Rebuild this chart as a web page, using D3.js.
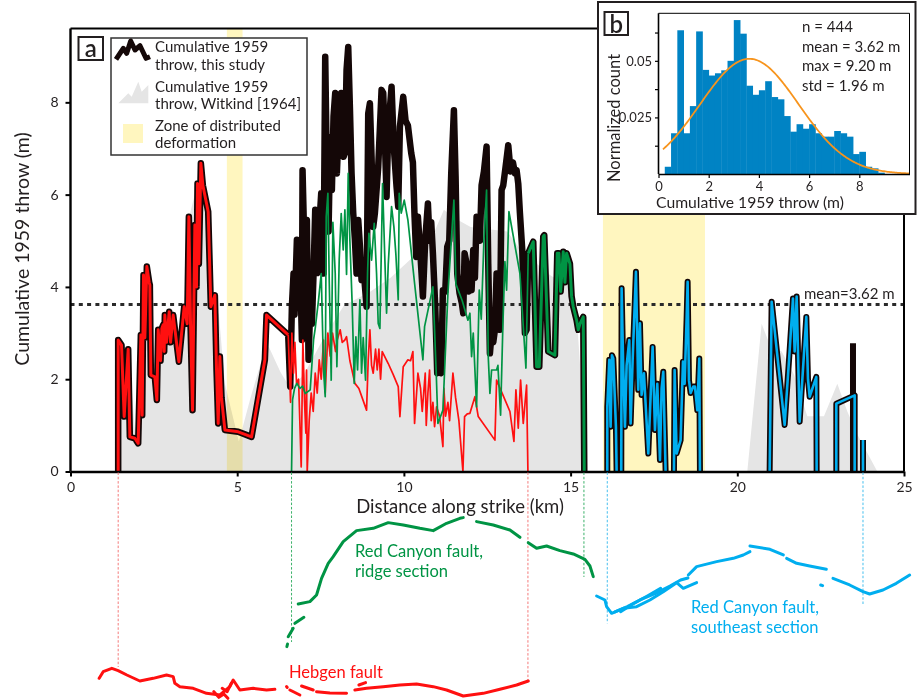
<!DOCTYPE html>
<html>
<head>
<meta charset="utf-8">
<script src="https://cdn.jsdelivr.net/npm/d3@7"></script>
<style>
  body { margin: 0; background: #fff; }
  svg { display: block; font-family: Lato, "Open Sans", sans-serif; }
</style>
</head>
<body>
<svg id="chart" width="917" height="700"></svg>
<script>
// ---------------------------------------------------------------
// Cumulative 1959 throw along strike, Hebgen / Red Canyon faults
// ---------------------------------------------------------------

// Axis ticks
const xTicks = [0, 5, 10, 15, 20, 25];
const yTicks = [0, 2, 4, 6, 8];
const insetXTicks = [0, 2, 4, 6, 8];
const insetYTicks = [0.0125, 0.025, 0.0375, 0.05, 0.0625];
const insetYLabels = [0.025, 0.05];

// Zones of distributed deformation [start km, end km]
const deformationZones = [[4.69, 5.16], [15.97, 19.03]];

// Hebgen fault throw [km along strike, throw m]
const hebgenThrow = [
  [1.43,0],[1.43,2.85],[1.53,2.74],[1.61,1.19],[1.73,2.65],[1.78,0.75],[1.93,0.72],[2.03,0.61],
  [2.11,2.96],[2.15,1.22],[2.19,4.26],[2.23,2.9],[2.29,4.44],[2.36,4.1],[2.38,4.04],[2.41,2.09],
  [2.53,2.05],[2.59,1.55],[2.63,3.07],[2.7,2.4],[2.74,3.1],[2.78,3.18],[2.81,2.6],[2.83,3.39],
  [2.88,2.8],[2.96,3.46],[3.0,2.8],[3.08,3.39],[3.25,2.38],[3.41,3.57],[3.5,3.2],[3.55,5.52],
  [3.6,3.2],[3.66,1.33],[3.73,5.34],[3.78,4.0],[3.81,6.24],[3.85,4.5],[3.91,6.68],[3.97,6.2],
  [4.13,5.63],[4.21,3.57],[4.33,3.82],[4.38,2.2],[4.43,1.04],[4.48,2.49],[4.53,1.6],[4.63,0.9],
  [5.03,0.86],[5.43,0.75],[5.83,2.42],[5.88,3.39],[6.53,2.96],
  [6.6,1.5],[6.64,3.0],[6.69,2.13],[6.73,2.8],[6.78,1.9],[6.84,2.0],[6.92,0.1],[6.97,2.85],
  [7.02,1.5],[7.06,0.83],[7.08,2.2],[7.1,0],[7.16,1.11],[7.22,1.7],[7.28,1.3],[7.34,2.13],
  [7.4,1.7],[7.46,2.42],[7.52,2.0],[7.59,2.85],[7.64,1.7],[7.72,3.0],[7.79,2.5],[7.86,3.0],
  [7.95,2.6],[8.0,2.85],[8.09,3.07],[8.15,2.8],[8.23,2.85],[8.28,2.92],[8.38,2.4],[8.53,1.91],
  [8.65,1.8],[8.88,1.33],[8.93,2.42],[8.98,3.07],[9.03,2.3],[9.08,2.13],[9.15,2.65],[9.2,2.2],
  [9.25,2.65],[9.3,2.0],[9.35,2.6],[9.53,2.34],[9.68,2.1],[9.83,1.84],[9.88,1.19],[9.98,2.27],
  [10.12,2.42],[10.2,2.4],[10.27,2.6],[10.32,1.04],[10.42,2.13],[10.5,1.8],[10.55,1.3],[10.64,2.13],
  [10.67,1.0],[10.72,1.7],[10.77,2.2],[10.82,1.1],[10.87,1.5],[10.92,0.97],[10.98,1.4],[11.07,1.2],
  [11.17,0.54],[11.2,1.8],[11.25,1.2],[11.32,1.5],[11.37,1.1],[11.47,2.13],[11.55,1.6],[11.65,1.1],
  [11.77,0],[11.82,1.19],[11.9,1.25],[11.98,1.26],[12.13,1.62],[12.23,1.19],[12.73,0.68],[12.78,1.98],
  [13.18,1.3],[13.3,0.65],[13.36,1.77],[13.43,0.94],[13.5,1.98],[13.58,1.04],[13.68,1.87],[13.72,0]
];

// Red Canyon fault, ridge section throw [km, m]
const ridgeThrow = [
  [6.63,0],[6.66,1.55],[6.72,1.8],[6.79,1.91],[6.88,1.8],[6.96,1.85],[7.04,1.69],[7.19,1.77],
  [7.29,2.85],[7.34,3.1],[7.44,3.72],[7.52,4.29],[7.59,2.2],[7.64,1.62],[7.67,5.52],[7.72,6.03],
  [7.76,4.15],[7.82,1.98],[7.87,5.4],[7.94,4.29],[7.99,2.27],[8.06,4.6],[8.12,5.59],[8.18,4.8],
  [8.23,5.67],[8.28,4.27],[8.33,6.46],[8.38,5.0],[8.45,3.6],[8.51,1.91],[8.56,2.92],[8.61,2.2],
  [8.68,3.72],[8.73,2.13],[8.78,2.9],[8.85,1.98],[8.91,4.29],[8.95,5.16],[9.03,4.58],[9.11,5.38],
  [9.18,4.29],[9.23,3.21],[9.28,3.1],[9.36,6.24],[9.42,4.8],[9.48,3.43],[9.53,4.48],[9.63,5.74],
  [9.7,5.3],[9.76,4.7],[9.83,3.72],[9.86,6.03],[9.92,5.6],[10.01,5.88],[10.12,5.45],[10.32,4.08],
  [10.57,2.42],[10.62,3.14],[10.87,4.0],[10.97,2.13],[11.02,1.04],[11.17,1.33],[11.32,3.86],[11.5,5.88],
  [11.56,4.06],[11.75,3.7],[11.92,3.28],[11.98,3.43],[12.03,2.49],[12.08,3.0],[12.18,1.4],[12.26,3.93],
  [12.32,3.3],[12.4,5.0],[12.48,6.1],[12.53,2.49],[12.58,1.69],[12.63,2.2],[12.78,2.2],[12.82,2.3],
  [12.9,1.22],[12.97,3.2],[13.03,4.55],[13.08,3.93],[13.15,5.63],[13.48,4.29],[13.66,2.24],[13.73,4.73],
  [13.88,4.98],[13.98,2.27],[14.06,2.27],[14.18,5.09],[14.21,5.12],[14.33,2.6],[14.53,2.52],[14.6,4.73],
  [14.65,4.73],[14.7,3.9],[14.78,4.76],[14.83,4.1],[14.88,4.73],[14.98,4.5],[15.03,3.8],[15.08,3.57],
  [15.18,3.28],[15.23,3.07],[15.28,3.2],[15.38,3.35],[15.41,0]
];

// Summed throw where the Hebgen and ridge-section ruptures overlap [km, m]
const overlapThrow = [
  [6.53,2.96],[6.59,1.84],[6.64,3.57],[6.69,4.29],[6.72,3.4],[6.79,5.02],[6.84,4.1],[6.88,4.7],
  [6.94,2.85],[6.96,6.53],[7.02,4.7],[7.09,5.45],[7.14,2.42],[7.19,3.57],[7.24,3.2],[7.29,4.29],
  [7.34,5.67],[7.4,4.3],[7.46,5.3],[7.52,6.03],[7.59,4.29],[7.64,8.99],[7.69,6.46],[7.74,5.2],
  [7.79,7.25],[7.84,6.1],[7.89,7.7],[7.94,8.2],[7.99,6.46],[8.06,7.76],[8.12,8.2],[8.19,6.82],
  [8.23,6.9],[8.28,8.7],[8.33,9.2],[8.38,7.9],[8.43,6.46],[8.48,5.6],[8.53,5.02],[8.58,4.29],
  [8.63,5.45],[8.68,4.9],[8.73,4.15],[8.8,4.3],[8.88,3.57],[8.93,7.76],[8.98,7.98],[9.03,6.82],
  [9.08,5.3],[9.13,5.6],[9.23,6.6],[9.33,8.27],[9.38,8.2],[9.43,7.18],[9.48,5.95],[9.53,7.4],
  [9.63,8.34],[9.7,7.0],[9.78,6.17],[9.83,5.74],[9.88,7.47],[9.98,8.12],[10.05,7.6],[10.12,7.5],
  [10.22,6.9],[10.27,6.7],[10.32,5.52],[10.37,4.65],[10.42,5.52],[10.5,4.65],[10.57,3.79],[10.64,5.02],
  [10.72,5.81],[10.77,5.0],[10.82,5.4],[10.87,4.73],[10.94,3.57],[11.0,2.13],[11.07,2.34],[11.12,2.13],
  [11.17,3.93],[11.24,3.9],[11.3,4.87],[11.36,5.0],[11.42,6.46],[11.5,7.83],[11.55,6.4],[11.6,4.29],
  [11.67,3.86],[11.74,3.64],[11.78,3.43],[11.82,4.73],[11.88,4.51],[11.94,3.9],[12.0,4.4],[12.03,3.93],
  [12.08,4.8],[12.13,4.2],[12.18,5.52],[12.23,5.45],[12.28,5.0],[12.33,6.2],[12.4,6.5],[12.48,7.04],
  [12.53,4.5],[12.58,2.56],[12.63,3.0],[12.68,2.8],[12.73,3.07],[12.78,4.29],[12.83,3.8],[12.88,3.07],
  [12.93,6.1],[12.98,6.2],[13.05,6.6],[13.13,7.07],[13.2,6.5],[13.27,6.7],[13.33,6.46],[13.38,6.53],
  [13.43,6.24],[13.48,5.6],[13.55,4.8],[13.63,3.0],[13.68,3.07],[13.73,4.73]
];

// Red Canyon fault, southeast section throw [km, m]; null breaks the line
const southeastThrow = [
  [16.1,0],[16.1,1.4],[16.16,2.42],[16.2,0.97],[16.24,2.52],[16.28,2.45],[16.36,0.97],[16.38,0],null,
  [16.52,0],[16.53,3.97],[16.58,2.2],[16.63,0.97],[16.68,2.3],[16.76,2.85],[16.8,1.04],[16.86,2.4],
  [16.96,4.33],[17.03,1.77],[17.08,3.21],[17.13,1.66],[17.2,2.13],[17.33,0.39],[17.46,2.7],[17.53,0.9],
  [17.6,1.9],[17.68,0.25],[17.73,1.8],[17.78,2.16],[17.85,0],null,
  [18.1,0],[18.12,2.2],[18.18,0.39],[18.3,0.68],[18.37,2.38],[18.42,1.9],[18.48,3.32],[18.51,4.11],
  [18.55,1.98],[18.6,1.7],[18.68,1.84],[18.73,1.84],[18.8,1.33],[18.86,2.45],[18.88,0],null,
  [20.97,0],[21.03,3.68],[21.42,1.01],[21.55,2.4],[21.67,3.75],[21.72,2.6],[21.78,3.79],[21.87,1.08],
  [22.07,3.35],[22.12,2.0],[22.17,1.62],[22.37,2.05],[22.38,0],null,
  [22.97,0],[22.97,1.47],[23.52,1.65],[23.52,0],null,
  [23.77,0],[23.77,0.68]
];

// Short strand adding to the cumulative total near the southeast tip [km, m]
const minorStrand = [[23.47,0],[23.47,2.78]];

// Witkind (1964) cumulative throw [km, m]
const witkindNorth = [
  [1.39,0],[1.43,2.8],[1.6,1.2],[1.75,2.6],[1.95,0.7],[2.05,0.6],[2.2,4.2],[2.3,4.4],[2.45,2.0],
  [2.6,1.5],[2.65,3.0],[2.9,3.4],[3.1,3.4],[3.25,2.4],[3.45,3.5],[3.55,5.5],[3.8,6.2],[3.9,6.6],
  [4.1,5.5],[4.2,3.7],[4.45,3.4],[4.63,1.9],[5.05,0.65],[5.4,1.6],[5.85,2.7],[5.95,2.7],[6.3,2.15],
  [6.6,1.8],[7.0,2.1],[7.6,2.9],[8.2,3.6],[9.0,3.9],[9.6,4.2],[10.2,4.6],[10.8,5.0],[11.2,5.67],
  [11.5,5.5],[12.0,5.3],[13.1,5.2],[13.5,4.8],[14.4,4.25],[15.0,4.0],[15.2,3.2],[15.33,1.8],[15.4,0]
];
const witkindSouth = [
  [20.3,0],[20.73,3.2],[21.0,2.7],[21.33,2.6],[21.7,2.1],[22.1,1.2],[22.6,1.2],[23.0,1.9],
  [23.3,1.3],[23.6,0.8],[24.2,0]
];

// Summary statistics of the cumulative throw
const throwCount = 444;
const throwMean = 3.62;
const throwMax = 9.20;
const throwStd = 1.96;

// Histogram of cumulative throw: bins of 0.25 m starting at 0.25 m
const binStart = 0.25;
const binWidth = 0.25;
const binFractions = [
  0.0032, 0.018, 0.0635, 0.018, 0.030, 0.063, 0.046, 0.0435, 0.0445, 0.0458,
  0.050, 0.068, 0.062, 0.039, 0.035, 0.037, 0.041, 0.034, 0.033, 0.0256,
  0.0187, 0.022, 0.020, 0.022, 0.018, 0.0165, 0.0165, 0.019, 0.018, 0.0165,
  0.0088, 0.0098, 0.0032, 0.0025, 0.0006
];

// Fault traces in map view [km along strike, km northing]; each inner list is one mapped strand
const hebgenTrace = [
  [[0.86,0.35],[0.98,0.55],[1.24,0.65],[1.43,0.58],[1.69,0.45],[2.08,0.27],[2.48,0.35],[2.88,0.45],
   [3.08,0.4],[3.13,0.2],[3.28,0.1],[3.68,0.05],[4.08,-0.1],[4.48,-0.15],[4.78,0.1],[4.88,0.3],
   [5.08,0.0],[5.48,0.05],[5.88,0.0],[6.13,0.02]],
  [[4.3,-0.05],[4.45,-0.22],[4.6,-0.12],[4.72,-0.25]],
  [[4.55,0.05],[4.7,-0.05],[4.82,0.2]],
  [[6.48,0.1],[6.5,0.08]],
  [[6.58,0.0],[6.88,-0.15]],
  [[6.93,0.12],[7.28,0.0]],
  [[7.38,-0.05],[7.78,-0.09],[8.28,-0.1]],
  [[8.53,0.0],[8.88,0.05],[9.38,0.1],[9.88,0.15],[10.38,0.18],[10.88,0.1],[11.28,0.0],[11.78,-0.18],
   [12.38,-0.1],[12.88,0.02],[13.38,0.15],[13.73,0.27]],
  [[8.65,0.15],[8.85,0.22]]
];
const ridgeTrace = [
  [[6.49,1.3],[6.51,1.38]],
  [[6.53,1.6],[6.68,1.85]],
  [[6.73,2.0],[7.0,2.18]],
  [[6.83,2.58],[7.18,2.65],[7.38,2.85],[7.53,3.35],[7.73,3.8],[7.88,4.0],[8.18,4.45],[8.58,4.78],
   [9.08,4.85],[9.53,5.02],[9.98,4.95],[10.48,4.85],[10.88,4.78],[11.28,5.0],[11.68,5.15],[11.78,5.17]],
  [[12.18,5.05],[12.68,4.95],[13.18,4.8],[13.48,4.58]],
  [[13.73,4.42],[13.98,4.25],[14.28,4.32],[14.68,4.18],[15.08,4.08],[15.43,3.92],[15.58,3.72],[15.68,3.4]]
];
const southeastTrace = [
  [[15.78,2.82],[16.03,2.7],[16.08,2.5],[16.23,2.3],[16.58,2.45],[16.98,2.5],[17.38,2.7],[17.78,2.95],
   [18.18,3.22],[18.38,3.05],[18.78,3.22]],
  [[16.33,2.34],[16.7,2.5],[17.08,2.7],[17.55,2.9],[17.98,3.12],[18.3,3.3],[18.52,3.36]],
  [[16.5,2.35],[16.9,2.6],[17.3,2.82],[17.7,3.05]],
  [[18.53,3.45],[18.78,3.7],[19.38,3.85],[19.88,3.95],[20.18,4.05],[20.38,4.15]],
  [[20.38,4.32],[20.98,4.22],[21.38,4.05]],
  [[21.48,3.95],[21.78,3.8],[22.17,3.72],[22.67,3.62]],
  [[22.5,3.15],[22.56,3.13]],
  [[22.87,3.35],[23.37,3.15],[23.77,2.95],[23.97,2.88],[24.37,3.0],[24.77,3.2],[25.17,3.45]]
];

// Dashed links from the throw axis down to the mapped fault ends
const linkKm = [1.43, 6.63, 13.72, 15.4, 16.1, 23.77];
const linkEndNorthing = [0.69, 1.44, 0.3, 3.39, 2.0, 2.53];
const linkFault = ["hebgen", "ridge", "hebgen", "ridge", "southeast", "southeast"];

// ---------------------------------------------------------------
const colors = {
  cumulative: "#140707",
  hebgen: "#ff1010",
  ridge: "#009444",
  southeast: "#00aeef",
  witkind: "#e5e5e5",
  zone: "#fff6bf",
  text: "#231f20",
  hist: "#0083c4",
  fit: "#f7941d"
};
const linkColors = { hebgen: "#f47a7a", ridge: "#3cb26a", southeast: "#45bfee" };

const svg = d3.select("#chart");

const x = d3.scaleLinear().domain([0, 25]).range([70.5, 904]);
const y = d3.scaleLinear().domain([0, 9.6]).range([471.5, 28.5]);
// map view uses the same km scale vertically as the along-strike axis
const kmPx = x(1) - x(0);
const northing = d3.scaleLinear().domain([0, 1]).range([690, 690 - kmPx]);

const line = d3.line().defined(d => d !== null).x(d => x(d[0])).y(d => y(d[1]));
const area = d3.area().x(d => x(d[0])).y0(y(0)).y1(d => y(d[1]));

// Witkind profile
const gWit = svg.append("g");
[witkindNorth, witkindSouth].forEach(s =>
  gWit.append("path").attr("d", area(s)).attr("fill", colors.witkind));

// Deformation zones (multiplied over the grey profile)
svg.append("g").selectAll("rect").data(deformationZones).join("rect")
  .attr("x", d => x(d[0])).attr("width", d => x(d[1]) - x(d[0]))
  .attr("y", y(9.6)).attr("height", y(0) - y(9.6))
  .attr("fill", colors.zone).style("mix-blend-mode", "multiply");

// Mean line
svg.append("line")
  .attr("x1", x(0)).attr("x2", x(25)).attr("y1", y(throwMean)).attr("y2", y(throwMean))
  .attr("stroke", "#2a2a2a").attr("stroke-width", 3).attr("stroke-dasharray", "4,4.3");

// Cumulative throw (thick dark line)
const joinStart = overlapThrow[0][0];
const joinEnd = overlapThrow[overlapThrow.length - 1][0];
const cumulative = hebgenThrow.filter(d => d[0] < joinStart)
  .concat(overlapThrow)
  .concat(ridgeThrow.filter(d => d[0] > joinEnd));

const gLines = svg.append("g").attr("fill", "none")
  .attr("stroke-linejoin", "round").attr("stroke-linecap", "butt");

gLines.append("path").attr("d", line(cumulative))
  .attr("stroke", colors.cumulative).attr("stroke-width", 6.5);
gLines.append("path").attr("d", line(southeastThrow))
  .attr("stroke", colors.cumulative).attr("stroke-width", 6);
gLines.append("path").attr("d", line(minorStrand))
  .attr("stroke", colors.cumulative).attr("stroke-width", 6);

// Individual fault contributions where the ruptures overlap
gLines.append("path").attr("d", line(hebgenThrow.filter(d => d[0] >= joinStart)))
  .attr("stroke", colors.hebgen).attr("stroke-width", 1.7);
gLines.append("path").attr("d", line(ridgeThrow.filter(d => d[0] <= joinEnd)))
  .attr("stroke", colors.ridge).attr("stroke-width", 1.7);

// Single-fault stretches, coloured inside the dark outline
gLines.append("path").attr("d", line(hebgenThrow.filter(d => d[0] <= joinStart)))
  .attr("stroke", colors.hebgen).attr("stroke-width", 3);
gLines.append("path").attr("d", line(ridgeThrow.filter(d => d[0] >= joinEnd)))
  .attr("stroke", colors.ridge).attr("stroke-width", 3);
gLines.append("path").attr("d", line(southeastThrow))
  .attr("stroke", colors.southeast).attr("stroke-width", 2.6);

// Frame and axes
svg.append("path")
  .attr("d", `M${x(0)},${y(9.6)}H${x(25)}V${y(0)}`)
  .attr("fill", "none").attr("stroke", "#000").attr("stroke-width", 2);

const gx = svg.append("g").attr("transform", `translate(0,${y(0)})`)
  .call(d3.axisBottom(x).tickValues(xTicks).tickSize(5).tickSizeOuter(0).tickPadding(6));
const gy = svg.append("g").attr("transform", `translate(${x(0)},0)`)
  .call(d3.axisLeft(y).tickValues(yTicks).tickSize(5).tickSizeOuter(0).tickPadding(7));
[gx, gy].forEach(g => {
  g.select(".domain").attr("stroke", "#000").attr("stroke-width", 2.4);
  g.selectAll(".tick line").attr("stroke", "#000").attr("stroke-width", 2);
  g.selectAll(".tick text").attr("fill", colors.text).style("font-size", "14px")
    .style("font-family", "Lato, sans-serif");
});
gy.select(".domain").attr("d", `M0,${y(0)}V${y(9.6)}`);

svg.append("text").attr("x", 460).attr("y", 512.5).attr("text-anchor", "middle")
  .attr("fill", colors.text).style("font-size", "18.5px").text("Distance along strike (km)");
svg.append("text").attr("transform", `translate(29,249) rotate(-90)`).attr("text-anchor", "middle")
  .attr("fill", colors.text).style("font-size", "19.5px").text("Cumulative 1959 throw (m)");

svg.append("text").attr("x", 804).attr("y", y(throwMean) - 5)
  .attr("fill", colors.text).style("font-size", "15px").text(`mean=${throwMean.toFixed(2)} m`);

// Panel label a
svg.append("rect").attr("x", 78.5).attr("y", 37).attr("width", 24.5).attr("height", 23)
  .attr("fill", "#fff").attr("stroke", colors.text).attr("stroke-width", 2);
svg.append("text").attr("x", 90.7).attr("y", 56.5).attr("text-anchor", "middle")
  .attr("fill", colors.text).style("font-size", "24px").style("font-weight", 600).text("a");

// Legend
const lg = svg.append("g");
lg.append("rect").attr("x", 111).attr("y", 38).attr("width", 196).attr("height", 117)
  .attr("fill", "#fff").attr("stroke", "#333").attr("stroke-width", 1.5);
lg.append("path").attr("d", "M116,59.3L123.3,48.3L126.7,53.3L130.7,41L135,50L140,45.7L146,58.3L150,56.7")
  .attr("fill", "none").attr("stroke", colors.cumulative).attr("stroke-width", 5)
  .attr("stroke-linejoin", "round");
lg.append("path").attr("d", "M118.3,103.3L128.3,93.3L131.7,96.7L138.3,81.7L141.7,91.7L148.3,85L148.3,103.3Z")
  .attr("fill", colors.witkind);
lg.append("rect").attr("x", 123).attr("y", 124).attr("width", 20).attr("height", 19)
  .attr("fill", colors.zone);
const legendLines = [
  ["Cumulative 1959", 52.3], ["throw, this study", 69.5],
  ["Cumulative 1959", 91.7], ["throw, Witkind [1964]", 108.6],
  ["Zone of distributed", 131], ["deformation", 147.5]
];
lg.selectAll("text.lt").data(legendLines).join("text").attr("class", "lt")
  .attr("x", 155).attr("y", d => d[1]).attr("fill", colors.text)
  .style("font-size", "15px").text(d => d[0]);

// Links from profile to map traces
svg.append("g").selectAll("line").data(linkKm).join("line")
  .attr("x1", d => x(d)).attr("x2", d => x(d))
  .attr("y1", y(0) + 1).attr("y2", (d, i) => northing(linkEndNorthing[i]))
  .attr("stroke", (d, i) => linkColors[linkFault[i]]).attr("stroke-width", 1)
  .attr("stroke-dasharray", "2.5,1.8");

// Map traces
const traceLine = d3.line().x(d => x(d[0])).y(d => northing(d[1])).curve(d3.curveLinear);
const traces = [[hebgenTrace, colors.hebgen], [ridgeTrace, colors.ridge], [southeastTrace, colors.southeast]];
traces.forEach(([segs, c]) => {
  svg.append("g").selectAll("path").data(segs).join("path")
    .attr("d", traceLine).attr("fill", "none").attr("stroke", c)
    .attr("stroke-width", 3).attr("stroke-linejoin", "round").attr("stroke-linecap", "round");
});

const faultLabels = [
  ["Red Canyon fault,", 355, 556.5, colors.ridge], ["ridge section", 355, 576.5, colors.ridge],
  ["Hebgen fault", 289, 678.3, colors.hebgen],
  ["Red Canyon fault,", 691, 612.5, colors.southeast], ["southeast section", 691, 632.5, colors.southeast]
];
svg.append("g").selectAll("text").data(faultLabels).join("text")
  .attr("x", d => d[1]).attr("y", d => d[2]).attr("fill", d => d[3])
  .style("font-size", "16.5px").text(d => d[0]);

// ---------------------------------------------------------------
// Inset b: histogram of cumulative throw
const inset = svg.append("g");
inset.append("rect").attr("x", 598).attr("y", 2).attr("width", 317.5).attr("height", 212)
  .attr("fill", "#fff").attr("stroke", colors.text).attr("stroke-width", 2);

const ix = d3.scaleLinear().domain([0, 10]).range([658.5, 909.5]);
const iy = d3.scaleLinear().domain([0, 0.071]).range([174, 13.3]);

inset.append("g").selectAll("rect").data(binFractions).join("rect")
  .attr("x", (d, i) => ix(binStart + i * binWidth))
  .attr("width", ix(binWidth) - ix(0) + 0.4)
  .attr("y", d => iy(d)).attr("height", d => iy(0) - iy(d))
  .attr("fill", colors.hist);

// normal curve with the sample mean and standard deviation, scaled to bin width
const fitX = d3.range(0.18, 10.001, 0.05);
const fit = fitX.map(t => [t,
  binWidth * Math.exp(-((t - throwMean) ** 2) / (2 * throwStd ** 2)) / (throwStd * Math.sqrt(2 * Math.PI))]);
inset.append("path")
  .attr("d", d3.line().x(d => ix(d[0])).y(d => iy(d[1]))(fit))
  .attr("fill", "none").attr("stroke", colors.fit).attr("stroke-width", 1.8);

inset.append("path").attr("d", `M${ix(0)},${iy(0.071)}H${ix(10)}V${iy(0)}`)
  .attr("fill", "none").attr("stroke", "#000").attr("stroke-width", 1);

const igx = inset.append("g").attr("transform", `translate(0,${iy(0)})`)
  .call(d3.axisBottom(ix).tickValues(insetXTicks).tickSize(4).tickSizeOuter(0).tickPadding(4));
const igy = inset.append("g").attr("transform", `translate(${ix(0)},0)`)
  .call(d3.axisLeft(iy).tickValues(insetYTicks).tickSize(3.5).tickSizeOuter(0).tickPadding(3)
    .tickFormat(d => insetYLabels.includes(d) ? d3.format("")(d) : ""));
[igx, igy].forEach(g => {
  g.select(".domain").attr("stroke", "#000").attr("stroke-width", 1.6);
  g.selectAll(".tick line").attr("stroke", "#000").attr("stroke-width", 1.2);
  g.selectAll(".tick text").attr("fill", colors.text).style("font-size", "13px")
    .style("font-family", "Lato, sans-serif");
});
igy.select(".domain").attr("d", `M0,${iy(0)}V${iy(0.071)}`);

inset.append("text").attr("x", 750).attr("y", 208).attr("text-anchor", "middle")
  .attr("fill", colors.text).style("font-size", "15.7px").text("Cumulative 1959 throw (m)");
inset.append("text").attr("transform", "translate(620,118) rotate(-90)").attr("text-anchor", "middle")
  .attr("fill", colors.text).style("font-size", "16.5px").text("Normalized count");

const statLines = [
  `n = ${throwCount}`,
  `mean = ${throwMean.toFixed(2)} m`,
  `max = ${throwMax.toFixed(2)} m`,
  `std = ${throwStd.toFixed(2)} m`
];
inset.selectAll("text.st").data(statLines).join("text").attr("class", "st")
  .attr("x", 802).attr("y", (d, i) => 32 + i * 19.6).attr("fill", colors.text)
  .style("font-size", "15px").text(d => d);

inset.append("rect").attr("x", 604.5).attr("y", 12).attr("width", 23.5).attr("height", 23)
  .attr("fill", "#fff").attr("stroke", colors.text).attr("stroke-width", 2);
inset.append("text").attr("x", 616.3).attr("y", 32.5).attr("text-anchor", "middle")
  .attr("fill", colors.text).style("font-size", "24px").style("font-weight", 600).text("b");
</script>
</body>
</html>
